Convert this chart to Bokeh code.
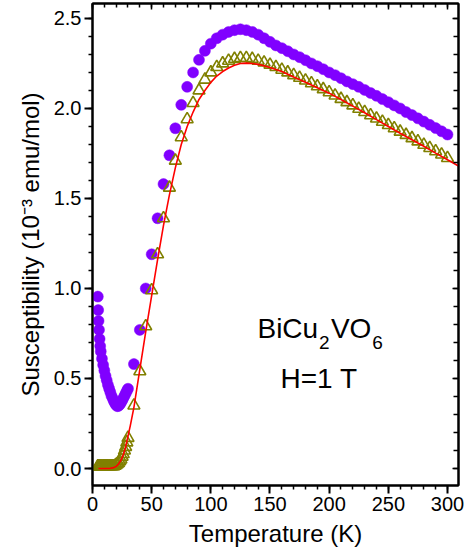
from bokeh.plotting import figure
from bokeh.models import Range1d, LinearAxis, FixedTicker, PrintfTickFormatter, Label
from bokeh.embed import file_html
from bokeh.resources import INLINE

# ---------------- data ----------------
T_meas = [4.5, 4.8, 5.1, 5.5, 6, 6.5, 7, 8, 9, 10, 11, 12, 13, 14, 15, 16, 17, 18, 19, 20,
          21, 22, 23, 24, 25, 26, 27, 28, 29, 30,
          35, 40, 45, 50, 55, 60, 65, 70, 75, 80, 85, 90, 95, 100, 105, 110, 115, 120, 125,
          130, 135, 140, 145, 150, 155, 160, 165, 170, 175, 180, 185, 190, 195, 200, 205,
          210, 215, 220, 225, 230, 235, 240, 245, 250, 255, 260, 265, 270, 275, 280, 285,
          290, 295, 300]

chi_raw = [0.955, 0.88, 0.82, 0.77, 0.72, 0.68, 0.65, 0.61, 0.575, 0.545, 0.515, 0.49, 0.465,
           0.445, 0.425, 0.405, 0.39, 0.375, 0.362, 0.352, 0.346, 0.348, 0.355, 0.365, 0.377,
           0.39, 0.403, 0.417, 0.43, 0.443,
           0.58, 0.77, 1.00, 1.19, 1.39, 1.58, 1.74, 1.89, 2.02, 2.12, 2.20, 2.27, 2.32, 2.36,
           2.39, 2.41, 2.425, 2.435, 2.44, 2.435, 2.425, 2.41, 2.39, 2.37, 2.35, 2.335, 2.318,
           2.30, 2.285, 2.268, 2.25, 2.235, 2.218, 2.20, 2.185, 2.168, 2.15, 2.135, 2.12,
           2.103, 2.086, 2.07, 2.052, 2.035, 2.017, 2.0, 1.98, 1.963, 1.945, 1.927, 1.909,
           1.891, 1.873, 1.855]

chi_corr = [0.012, 0.012, 0.012, 0.012, 0.012, 0.012, 0.012, 0.012, 0.012, 0.012, 0.012,
            0.012, 0.012, 0.012, 0.012, 0.012, 0.012, 0.012, 0.015, 0.02, 0.025, 0.03, 0.04,
            0.05, 0.065, 0.08, 0.10, 0.12, 0.145, 0.17,
            0.35, 0.54, 0.79, 0.99, 1.19, 1.39, 1.56, 1.71, 1.84, 1.94, 2.03, 2.10, 2.16, 2.20,
            2.23, 2.25, 2.265, 2.275, 2.28, 2.28, 2.275, 2.265, 2.255, 2.243, 2.23, 2.215, 2.20,
            2.185, 2.17, 2.155, 2.14, 2.123, 2.107, 2.09, 2.072, 2.053, 2.035, 2.017, 1.998,
            1.98, 1.962, 1.944, 1.926, 1.908, 1.89, 1.871, 1.853, 1.835, 1.817, 1.798, 1.78,
            1.762, 1.744, 1.725]

T_fit = [5, 10, 15, 18, 20, 22, 24, 26, 28, 30, 32, 35, 40, 45, 50, 55, 60, 65, 70, 75, 80,
         85, 90, 95, 100, 105, 110, 115, 120, 125, 130, 135, 140, 145, 150, 160, 170, 180,
         190, 200, 210, 220, 230, 240, 250, 260, 270, 280, 290, 300, 309.3]
chi_fit = [0.0, 0.0, 0.001, 0.005, 0.012, 0.025, 0.045, 0.075, 0.12, 0.18, 0.24, 0.34, 0.55,
           0.76, 0.96, 1.16, 1.35, 1.52, 1.67, 1.80, 1.90, 1.98, 2.05, 2.10, 2.145, 2.18,
           2.205, 2.225, 2.24, 2.25, 2.252, 2.25, 2.245, 2.237, 2.227, 2.205, 2.175, 2.145,
           2.115, 2.085, 2.05, 2.013, 1.976, 1.938, 1.90, 1.862, 1.826, 1.79, 1.752, 1.715,
           1.68]

x_major = [0, 50, 100, 150, 200, 250, 300]
x_minor = list(range(0, 311, 10))
y_major = [0.0, 0.5, 1.0, 1.5, 2.0, 2.5]
y_minor = [round(0.1 * i, 1) for i in range(-1, 26)]

FONT = "Liberation Sans"

p = figure(frame_width=366, frame_height=482,
           x_range=Range1d(0, 309.3), y_range=Range1d(-0.0944, 2.583),
           output_backend="svg", toolbar_location=None,
           min_border_left=92, min_border_right=8, min_border_top=3, min_border_bottom=69)
p.grid.visible = False
p.background_fill_color = "white"
p.border_fill_color = "white"
p.outline_line_color = "black"
p.outline_line_width = 2

xt = FixedTicker(ticks=x_major, minor_ticks=x_minor)
yt = FixedTicker(ticks=y_major, minor_ticks=y_minor)
p.xaxis[0].ticker = xt
p.yaxis[0].ticker = yt
p.yaxis[0].formatter = PrintfTickFormatter(format="%.1f")

for ax in (p.xaxis[0], p.yaxis[0]):
    ax.axis_line_width = 2
    ax.major_tick_line_width = 2
    ax.minor_tick_line_width = 1.5
    ax.major_tick_out = 8
    ax.major_tick_in = 0
    ax.minor_tick_out = 4
    ax.minor_tick_in = 0
    ax.major_label_text_font = FONT
    ax.major_label_text_font_size = "20px"
    ax.major_label_text_color = "black"
    ax.major_label_standoff = 3
    ax.axis_label_text_font = FONT
    ax.axis_label_text_font_size = "24px"
    ax.axis_label_text_font_style = "normal"
    ax.axis_label_text_color = "black"

p.xaxis[0].axis_label = "Temperature (K)"
p.xaxis[0].axis_label_standoff = 6
p.yaxis[0].axis_label = "Susceptibility (10\u207b\u00b3 emu/mol)"
p.yaxis[0].axis_label_standoff = 7

top = LinearAxis(ticker=FixedTicker(ticks=x_major, minor_ticks=x_minor),
                 major_label_text_font_size="0px", major_label_standoff=0,
                 major_tick_in=6, major_tick_out=0, minor_tick_in=4, minor_tick_out=0,
                 axis_line_width=2, major_tick_line_width=1.5, minor_tick_line_width=1.5)
right = LinearAxis(ticker=FixedTicker(ticks=y_major, minor_ticks=y_minor),
                   major_label_text_font_size="0px", major_label_standoff=0,
                   major_tick_in=6, major_tick_out=0, minor_tick_in=5, minor_tick_out=0,
                   axis_line_width=2, major_tick_line_width=1.5, minor_tick_line_width=1.5)
p.add_layout(top, "above")
p.add_layout(right, "right")

p.scatter(T_meas, chi_raw, marker="circle", size=11, fill_color="#8000ff",
          line_color="#8000ff", line_width=0.5)
p.scatter(T_meas, chi_corr, marker="triangle", size=12, fill_color=None,
          line_color="#808000", line_width=1.6)
p.line(T_fit, chi_fit, line_color="#ff0000", line_width=1.6)

# annotation  BiCu2VO6 / H=1 T  (placed in data units)
def lab(x, y, t, size):
    p.add_layout(Label(x=x, y=y, text=t, text_font=FONT, text_font_size=size,
                       text_color="black", text_baseline="alphabetic", text_align="left"))

lab(139.4, 0.778, "BiCu", "28px")
lab(191.5, 0.700, "2", "19px")
lab(201.5, 0.778, "VO", "28px")
lab(236.5, 0.700, "6", "19px")
lab(158.9, 0.500, "H=1 T", "28px")

open("out.html", "w").write(file_html(p, INLINE))
